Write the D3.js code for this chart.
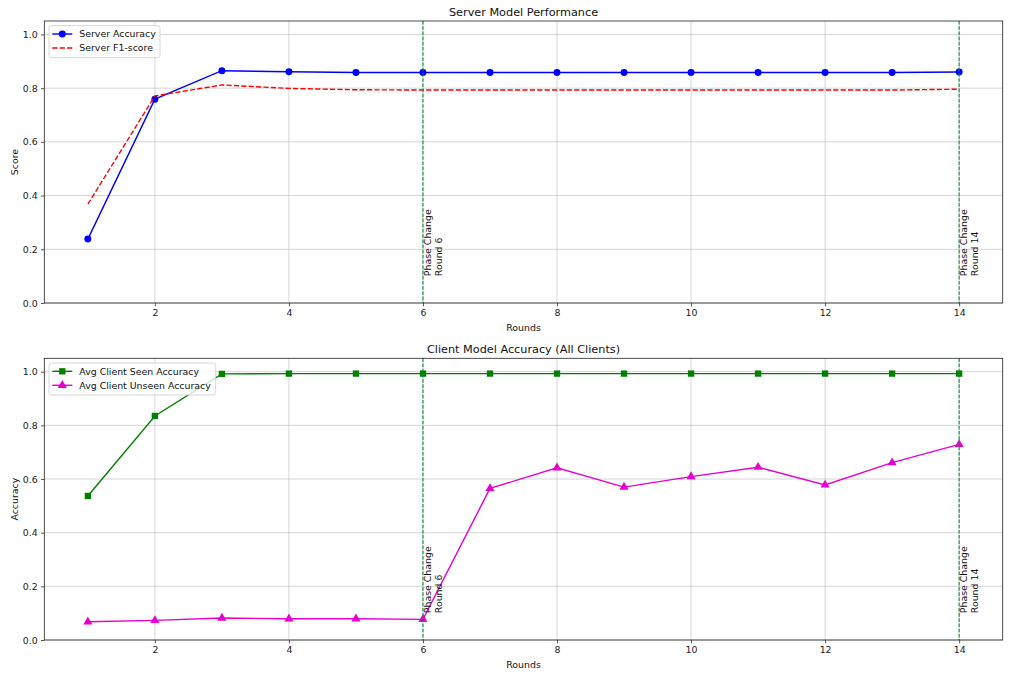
<!DOCTYPE html>
<html>
<head>
<meta charset="utf-8">
<script src="https://cdn.jsdelivr.net/npm/d3@7"></script>
<style>
  html, body { margin: 0; padding: 0; background: #ffffff; }
  svg { display: block; font-family: "DejaVu Sans", sans-serif; }
</style>
</head>
<body>
<svg id="chart" width="1013" height="676"></svg>
<script>
// ---- data ----
const rounds = [1,2,3,4,5,6,7,8,9,10,11,12,13,14];
const serverAccuracy = [0.238,0.759,0.865,0.861,0.858,0.858,0.858,0.858,0.858,0.858,0.858,0.858,0.858,0.860];
const serverF1 = [0.368,0.771,0.812,0.799,0.794,0.793,0.793,0.793,0.793,0.793,0.793,0.793,0.793,0.796];
const clientSeen = [0.537,0.835,0.992,0.993,0.993,0.993,0.993,0.993,0.993,0.993,0.993,0.993,0.993,0.993];
const clientUnseen = [0.068,0.073,0.082,0.079,0.079,0.077,0.565,0.642,0.570,0.609,0.644,0.578,0.661,0.729];
const phaseRounds = [6, 14];
const xTicks = [2,4,6,8,10,12,14];
const yTicks = [0.0,0.2,0.4,0.6,0.8,1.0];

const svg = d3.select("#chart");
const L = 44.3, R = 1002.7;
const FS = 9.4;

function panel(cfg) {
  const x = d3.scaleLinear().domain([0.35, 14.65]).range([L, R]);
  const y = d3.scaleLinear().domain([0, 1.05]).range([cfg.bottom, cfg.top]);
  const g = svg.append("g");

  // grid
  g.append("g").selectAll("line.gx").data(xTicks).join("line")
    .attr("x1", d => x(d)).attr("x2", d => x(d))
    .attr("y1", cfg.top).attr("y2", cfg.bottom)
    .attr("stroke", "#b0b0b0").attr("stroke-opacity", 0.7).attr("stroke-width", 0.75);
  g.append("g").selectAll("line.gy").data(yTicks).join("line")
    .attr("x1", L).attr("x2", R)
    .attr("y1", d => y(d)).attr("y2", d => y(d))
    .attr("stroke", "#b0b0b0").attr("stroke-opacity", 0.7).attr("stroke-width", 0.75);

  // axes
  const xa = g.append("g").attr("transform", `translate(0,${cfg.bottom})`)
    .call(d3.axisBottom(x).tickValues(xTicks).tickFormat(d3.format("d")).tickSize(3.3).tickPadding(3.3));
  const ya = g.append("g").attr("transform", `translate(${L},0)`)
    .call(d3.axisLeft(y).tickValues(yTicks).tickFormat(d3.format(".1f")).tickSize(3.3).tickPadding(3.3));
  [xa, ya].forEach(a => {
    a.select(".domain").remove();
    a.selectAll("line").attr("stroke", "#222").attr("stroke-width", 0.75);
    a.selectAll("text").attr("font-size", FS).attr("fill", "#222").attr("font-family", "DejaVu Sans");
  });

  // series
  cfg.series.forEach(s => {
    const line = d3.line().x((d, i) => x(rounds[i])).y(d => y(d));
    g.append("path").datum(s.values)
      .attr("d", line).attr("fill", "none")
      .attr("stroke", s.color).attr("stroke-width", 1.4)
      .attr("stroke-dasharray", s.dash || null);
    if (s.marker) {
      const sym = d3.symbol().type(s.marker).size(s.msize);
      g.append("g").selectAll("path").data(s.values).join("path")
        .attr("transform", (d, i) => `translate(${x(rounds[i])},${y(d)})`)
        .attr("d", sym).attr("fill", s.color);
    }
  });

  // phase lines
  phaseRounds.forEach(p => {
    g.append("line")
      .attr("x1", x(p)).attr("x2", x(p)).attr("y1", cfg.top).attr("y2", cfg.bottom)
      .attr("stroke", "#00903a").attr("stroke-opacity", 0.9).attr("stroke-width", 1.2)
      .attr("stroke-dasharray", "3.6,1.6");
    const t = g.append("text")
      .attr("transform", `translate(${x(p)},${y(0.1)}) rotate(-90)`)
      .attr("font-size", FS).attr("fill", "#111").attr("text-anchor", "start");
    t.append("tspan").attr("x", 0).attr("y", 8.2).text("Phase Change");
    t.append("tspan").attr("x", 0).attr("y", 19.2).text("Round " + p);
  });

  // frame
  g.append("rect").attr("x", L).attr("y", cfg.top).attr("width", R - L).attr("height", cfg.bottom - cfg.top)
    .attr("fill", "none").attr("stroke", "#222").attr("stroke-width", 0.8);

  // title & labels
  g.append("text").attr("x", (L + R) / 2).attr("y", cfg.top - 5.5)
    .attr("text-anchor", "middle").attr("font-size", 11.25).attr("fill", "#111").text(cfg.title);
  g.append("text").attr("x", (L + R) / 2).attr("y", cfg.bottom + 27.5)
    .attr("text-anchor", "middle").attr("font-size", FS).attr("fill", "#111").text("Rounds");
  g.append("text").attr("transform", `translate(17.5,${(cfg.top + cfg.bottom) / 2}) rotate(-90)`)
    .attr("text-anchor", "middle").attr("font-size", FS).attr("fill", "#111").text(cfg.ylabel);

  // legend
  const lg = g.append("g");
  lg.append("rect").attr("x", 49).attr("y", cfg.top + 4.7).attr("width", cfg.legendW).attr("height", 32)
    .attr("rx", 2.5).attr("fill", "#fff").attr("fill-opacity", 0.8)
    .attr("stroke", "#cccccc").attr("stroke-width", 0.8);
  cfg.series.forEach((s, i) => {
    const cy = cfg.top + 13 + i * 14;
    lg.append("line").attr("x1", 52.3).attr("x2", 72.3).attr("y1", cy).attr("y2", cy)
      .attr("stroke", s.color).attr("stroke-width", 1.4).attr("stroke-dasharray", s.dash || null);
    if (s.marker) {
      lg.append("path").attr("transform", `translate(62.3,${cy})`)
        .attr("d", d3.symbol().type(s.marker).size(s.msize)).attr("fill", s.color);
    }
    lg.append("text").attr("x", 79.3).attr("y", cy + 3.4).attr("font-size", FS).attr("fill", "#111").text(s.name);
  });
}

panel({
  top: 21, bottom: 303, title: "Server Model Performance", ylabel: "Score", legendW: 111,
  series: [
    { name: "Server Accuracy", values: serverAccuracy, color: "#0000ff", marker: d3.symbolCircle, msize: 38 },
    { name: "Server F1-score", values: serverF1, color: "#ff0000", dash: "5.2,2.2" }
  ]
});
panel({
  top: 358.3, bottom: 640, title: "Client Model Accuracy (All Clients)", ylabel: "Accuracy", legendW: 166.7,
  series: [
    { name: "Avg Client Seen Accuracy", values: clientSeen, color: "#008000", marker: d3.symbolSquare, msize: 40 },
    { name: "Avg Client Unseen Accuracy", values: clientUnseen, color: "#e600d2", marker: d3.symbolTriangle, msize: 36 }
  ]
});
</script>
</body>
</html>
